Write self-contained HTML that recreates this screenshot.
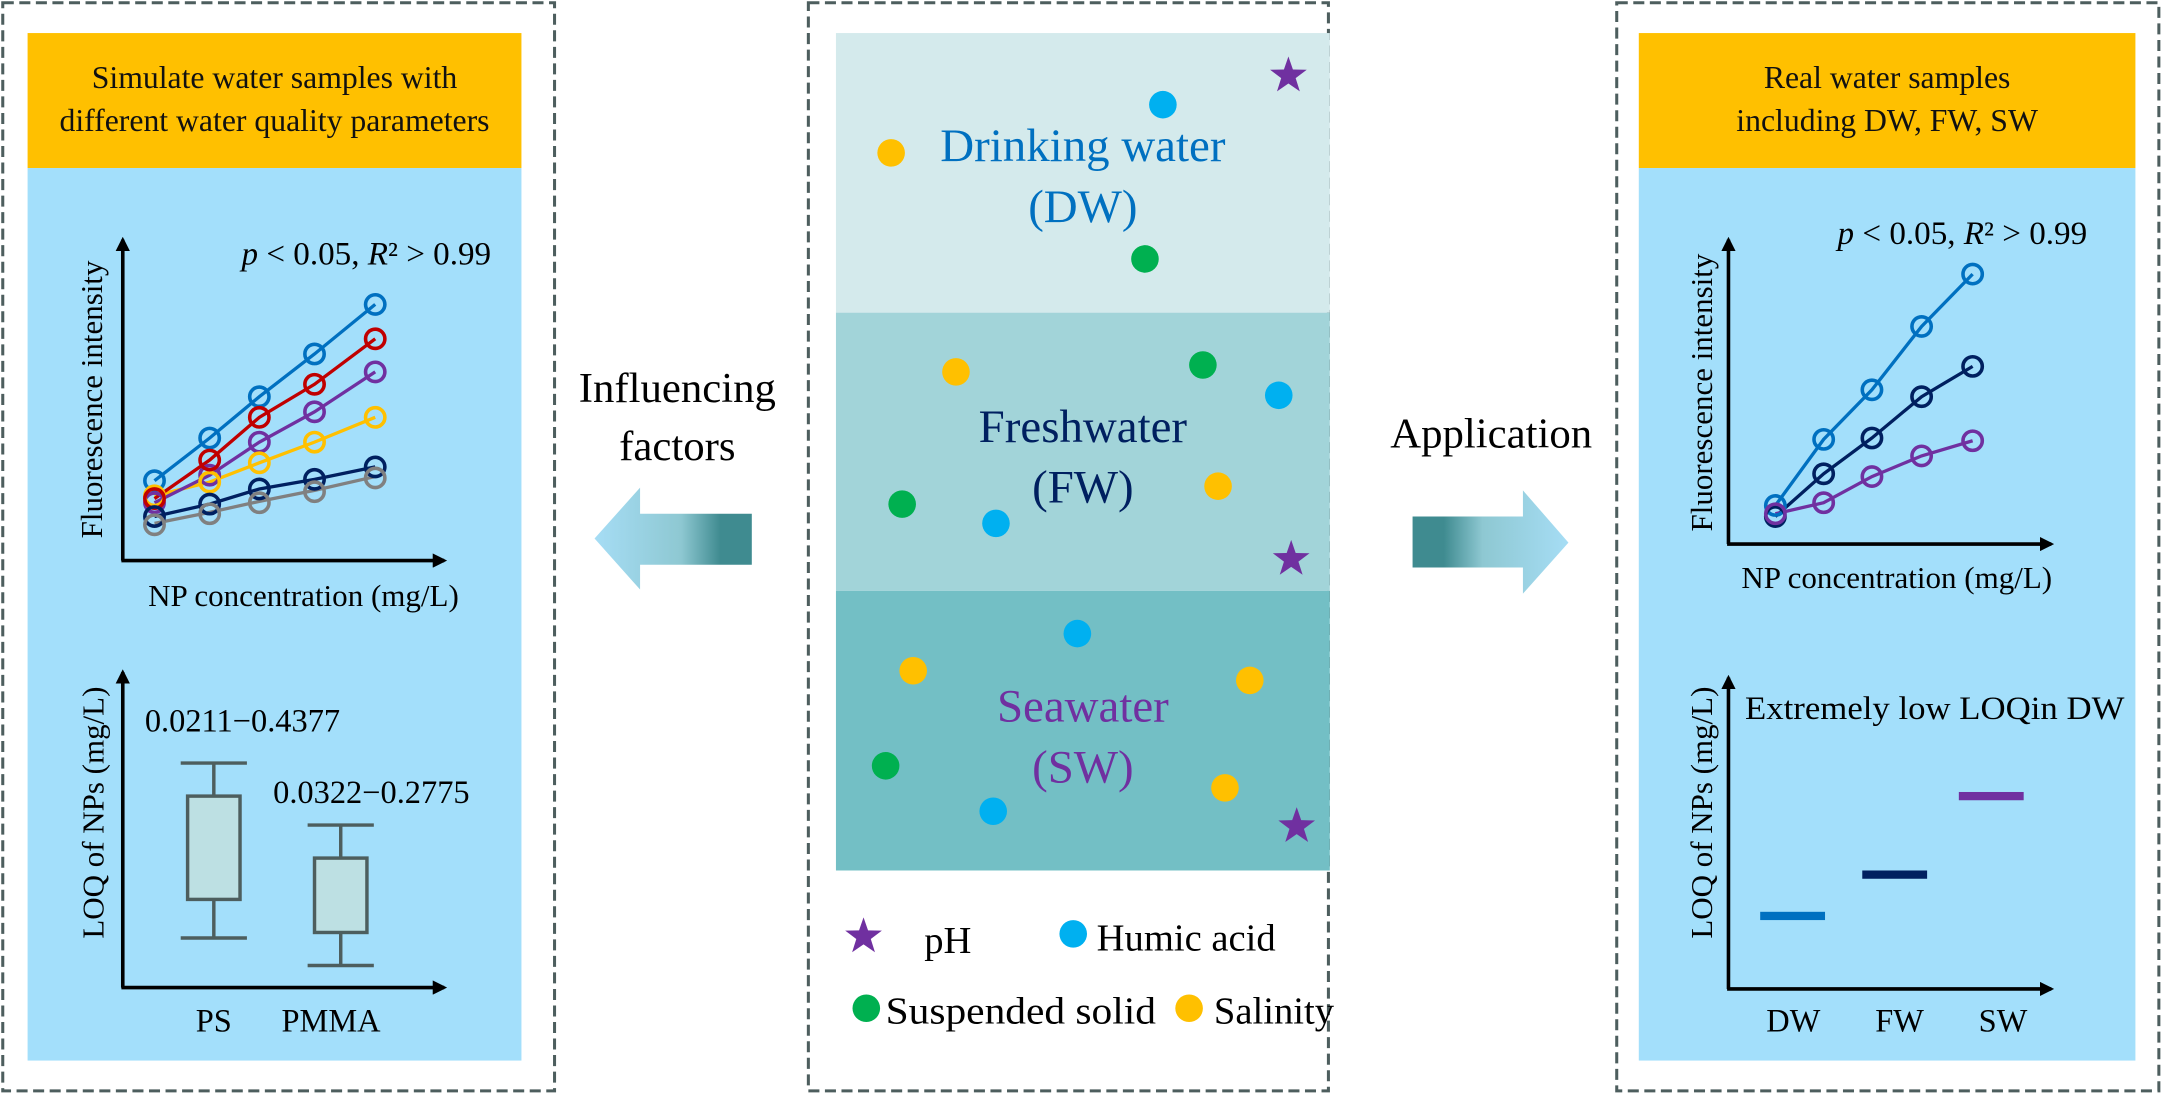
<!DOCTYPE html>
<html><head><meta charset="utf-8"><style>
html,body{margin:0;padding:0;background:#fff;}
svg{display:block;}
text{font-family:"Liberation Serif",serif;}
</style></head><body>
<svg width="2163" height="1095" viewBox="0 0 1568 795" preserveAspectRatio="none" xmlns="http://www.w3.org/2000/svg">
<defs>
<linearGradient id="gl" x1="0" x2="1" y1="0" y2="0">
<stop offset="0" stop-color="#a6ddf5"/><stop offset="0.55" stop-color="#8ec8d2"/><stop offset="0.8" stop-color="#3f8b90"/><stop offset="1" stop-color="#3f8b90"/></linearGradient>
<linearGradient id="gr" x1="0" x2="1" y1="0" y2="0">
<stop offset="0" stop-color="#3f8b90"/><stop offset="0.2" stop-color="#3f8b90"/><stop offset="0.45" stop-color="#8ec8d2"/><stop offset="1" stop-color="#a6ddf5"/></linearGradient>
<marker id="ah" viewBox="0 0 10 10" refX="8" refY="5" markerWidth="4" markerHeight="4" orient="auto"><path d="M0,0 L10,5 L0,10 z" fill="#000"/></marker>
<symbol id="star" viewBox="-12 -12 24 24"><polygon points="0,-12 2.8,-3.9 11.4,-3.7 4.5,1.5 7.1,9.7 0,4.8 -7.1,9.7 -4.5,1.5 -11.4,-3.7 -2.8,-3.9" fill="#7030a0"/></symbol>
</defs>
<g fill="none" stroke="#4d5e5e" stroke-width="2.2" stroke-dasharray="8,4">
<rect x="2" y="2" width="400" height="790"/>
<rect x="586" y="2" width="377" height="790"/>
<rect x="1172" y="2" width="393" height="790"/>
</g>
<!-- left panel -->
<rect x="20" y="24" width="358" height="98" fill="#ffc000"/>
<rect x="20" y="122" width="358" height="648" fill="#a3dffb"/>
<text x="199" y="64" font-size="23" text-anchor="middle" fill="#111">Simulate water samples with</text>
<text x="199" y="95" font-size="23" text-anchor="middle" fill="#111">different water quality parameters</text>
<g stroke="#000" stroke-width="2.6" fill="none">
<line x1="89" y1="407" x2="89" y2="174" marker-end="url(#ah)"/>
<line x1="88" y1="407" x2="322" y2="407" marker-end="url(#ah)"/>
</g>
<text x="356" y="192" font-size="24" text-anchor="end"><tspan font-style="italic">p</tspan> &lt; 0.05, <tspan font-style="italic">R</tspan>² &gt; 0.99</text>
<g fill="none" stroke-width="2.4">
<g stroke="#0070c0"><polyline points="112,349 152,318 188,288 228,257 272,221"/></g>
<g stroke="#ffc000"><polyline points="112,360 152,350 188,336 228,321 272,303"/></g>
<g stroke="#7030a0"><polyline points="112,365 152,345 188,321 228,299 272,270"/></g>
<g stroke="#c00000"><polyline points="112,362 152,334 188,303 228,279 272,246"/></g>
<g stroke="#002060"><polyline points="112,375 152,366 188,355 228,348 272,339"/></g>
<g stroke="#808080"><polyline points="112,380 152,372 188,364 228,356 272,346"/></g>
</g>
<g fill="none" stroke-width="2.6">
<g stroke="#0070c0"><circle cx="112" cy="349" r="7"/><circle cx="152" cy="318" r="7"/><circle cx="188" cy="288" r="7"/><circle cx="228" cy="257" r="7"/><circle cx="272" cy="221" r="7"/></g>
<g stroke="#7030a0"><circle cx="112" cy="365" r="7"/><circle cx="152" cy="345" r="7"/><circle cx="188" cy="321" r="7"/><circle cx="228" cy="299" r="7"/><circle cx="272" cy="270" r="7"/></g>
<g stroke="#ffc000"><circle cx="112" cy="360" r="7"/><circle cx="152" cy="350" r="7"/><circle cx="188" cy="336" r="7"/><circle cx="228" cy="321" r="7"/><circle cx="272" cy="303" r="7"/></g>
<g stroke="#c00000"><circle cx="112" cy="362" r="7"/><circle cx="152" cy="334" r="7"/><circle cx="188" cy="303" r="7"/><circle cx="228" cy="279" r="7"/><circle cx="272" cy="246" r="7"/></g>
<g stroke="#002060"><circle cx="112" cy="375" r="7"/><circle cx="152" cy="366" r="7"/><circle cx="188" cy="355" r="7"/><circle cx="228" cy="348" r="7"/><circle cx="272" cy="339" r="7"/></g>
<g stroke="#808080"><circle cx="112" cy="381" r="7"/><circle cx="152" cy="373" r="7"/><circle cx="188" cy="365" r="7"/><circle cx="228" cy="357" r="7"/><circle cx="272" cy="347" r="7"/></g>
</g>
<text transform="translate(74,290) rotate(-90)" font-size="22.5" text-anchor="middle">Fluorescence intensity</text>
<text x="220" y="440" font-size="22.5" text-anchor="middle">NP concentration (mg/L)</text>
<g stroke="#000" stroke-width="2.6" fill="none">
<line x1="89" y1="717" x2="89" y2="488" marker-end="url(#ah)"/>
<line x1="88" y1="717" x2="322" y2="717" marker-end="url(#ah)"/>
</g>
<text transform="translate(75,590) rotate(-90)" font-size="22.5" text-anchor="middle">LOQ of NPs (mg/L)</text>
<text x="105" y="531" font-size="23.5">0.0211−0.4377</text>
<text x="198" y="583" font-size="23.5">0.0322−0.2775</text>
<g stroke="#4d5e5e" stroke-width="2.5">
<line x1="131" y1="554" x2="179" y2="554"/><line x1="155" y1="554" x2="155" y2="578"/>
<line x1="155" y1="653" x2="155" y2="681"/><line x1="131" y1="681" x2="179" y2="681"/>
<rect x="136" y="578" width="38" height="75" fill="#bde0e3"/>
<line x1="223" y1="599" x2="271" y2="599"/><line x1="247" y1="599" x2="247" y2="623"/>
<line x1="247" y1="677" x2="247" y2="701"/><line x1="223" y1="701" x2="271" y2="701"/>
<rect x="228" y="623" width="38" height="54" fill="#bde0e3"/>
</g>
<text x="155" y="749" font-size="23.5" text-anchor="middle">PS</text>
<text x="240" y="749" font-size="23.5" text-anchor="middle">PMMA</text>
<!-- arrows -->
<text x="491" y="292" font-size="31" text-anchor="middle">Influencing</text>
<text x="491" y="334" font-size="31" text-anchor="middle">factors</text>
<polygon points="431,391 464,354 464,373 545,373 545,410 464,410 464,428" fill="url(#gl)"/>
<text x="1081" y="325" font-size="31" text-anchor="middle">Application</text>
<polygon points="1024,375 1104,375 1104,356 1137,394 1104,431 1104,412 1024,412" fill="url(#gr)"/>
<!-- middle -->
<rect x="606" y="24" width="358" height="203" fill="#d4eaec"/>
<rect x="606" y="227" width="358" height="202" fill="#a2d4d9"/>
<rect x="606" y="429" width="358" height="203" fill="#73bfc5"/>
<text x="785" y="117" font-size="34" text-anchor="middle" fill="#0070c0">Drinking water</text>
<text x="785" y="161" font-size="34" text-anchor="middle" fill="#0070c0">(DW)</text>
<text x="785" y="321" font-size="34" text-anchor="middle" fill="#002060">Freshwater</text>
<text x="785" y="365" font-size="34" text-anchor="middle" fill="#002060">(FW)</text>
<text x="785" y="524" font-size="34" text-anchor="middle" fill="#7030a0">Seawater</text>
<text x="785" y="568" font-size="34" text-anchor="middle" fill="#7030a0">(SW)</text>
<g>
<circle cx="646" cy="111" r="10" fill="#ffc000"/><circle cx="843" cy="76" r="10" fill="#00b0f0"/><circle cx="830" cy="188" r="10" fill="#00b050"/>
<circle cx="693" cy="270" r="10" fill="#ffc000"/><circle cx="872" cy="265" r="10" fill="#00b050"/><circle cx="927" cy="287" r="10" fill="#00b0f0"/>
<circle cx="654" cy="366" r="10" fill="#00b050"/><circle cx="722" cy="380" r="10" fill="#00b0f0"/><circle cx="883" cy="353" r="10" fill="#ffc000"/>
<circle cx="781" cy="460" r="10" fill="#00b0f0"/><circle cx="662" cy="487" r="10" fill="#ffc000"/><circle cx="906" cy="494" r="10" fill="#ffc000"/>
<circle cx="642" cy="556" r="10" fill="#00b050"/><circle cx="720" cy="589" r="10" fill="#00b0f0"/><circle cx="888" cy="572" r="10" fill="#ffc000"/>
</g>
<use href="#star" x="920" y="41" width="28" height="28"/>
<use href="#star" x="922" y="392" width="28" height="28"/>
<use href="#star" x="926" y="586" width="28" height="28"/>
<use href="#star" x="612" y="666" width="28" height="28"/>
<text x="670" y="692" font-size="28">pH</text>
<circle cx="778" cy="678" r="10" fill="#00b0f0"/>
<text x="795" y="690" font-size="28">Humic acid</text>
<circle cx="628" cy="732" r="10" fill="#00b050"/>
<text x="642" y="743" font-size="28" textLength="196" lengthAdjust="spacingAndGlyphs">Suspended solid</text>
<circle cx="862" cy="732" r="10" fill="#ffc000"/>
<text x="880" y="743" font-size="28">Salinity</text>
<!-- right panel -->
<rect x="1188" y="24" width="360" height="98" fill="#ffc000"/>
<rect x="1188" y="122" width="360" height="648" fill="#a3dffb"/>
<text x="1368" y="64" font-size="23" text-anchor="middle" fill="#111">Real water samples</text>
<text x="1368" y="95" font-size="23" text-anchor="middle" fill="#111">including DW, FW, SW</text>
<g stroke="#000" stroke-width="2.6" fill="none">
<line x1="1253" y1="395" x2="1253" y2="174" marker-end="url(#ah)"/>
<line x1="1252" y1="395" x2="1487" y2="395" marker-end="url(#ah)"/>
</g>
<text x="1513" y="177" font-size="24" text-anchor="end"><tspan font-style="italic">p</tspan> &lt; 0.05, <tspan font-style="italic">R</tspan>² &gt; 0.99</text>
<g fill="none" stroke-width="2.4">
<polyline stroke="#0070c0" points="1287,367 1322,319 1357,283 1393,237 1430,199"/>
<polyline stroke="#002060" points="1287,375 1322,344 1357,318 1393,288 1430,266"/>
<polyline stroke="#7030a0" points="1287,373 1322,365 1357,346 1393,331 1430,320"/>
</g>
<g fill="none" stroke-width="2.6">
<g stroke="#0070c0"><circle cx="1287" cy="367" r="7"/><circle cx="1322" cy="319" r="7"/><circle cx="1357" cy="283" r="7"/><circle cx="1393" cy="237" r="7"/><circle cx="1430" cy="199" r="7"/></g>
<g stroke="#002060"><circle cx="1287" cy="375" r="7"/><circle cx="1322" cy="344" r="7"/><circle cx="1357" cy="318" r="7"/><circle cx="1393" cy="288" r="7"/><circle cx="1430" cy="266" r="7"/></g>
<g stroke="#7030a0"><circle cx="1287" cy="373" r="7"/><circle cx="1322" cy="365" r="7"/><circle cx="1357" cy="346" r="7"/><circle cx="1393" cy="331" r="7"/><circle cx="1430" cy="320" r="7"/></g>
</g>
<text transform="translate(1241,285) rotate(-90)" font-size="22.5" text-anchor="middle">Fluorescence intensity</text>
<text x="1375" y="427" font-size="22.5" text-anchor="middle">NP concentration (mg/L)</text>
<g stroke="#000" stroke-width="2.6" fill="none">
<line x1="1253" y1="718" x2="1253" y2="492" marker-end="url(#ah)"/>
<line x1="1252" y1="718" x2="1487" y2="718" marker-end="url(#ah)"/>
</g>
<text transform="translate(1241,590) rotate(-90)" font-size="22.5" text-anchor="middle">LOQ of NPs (mg/L)</text>
<text x="1265" y="522" font-size="23.5" textLength="275" lengthAdjust="spacingAndGlyphs">Extremely low LOQin DW</text>
<rect x="1276" y="662" width="47" height="6" fill="#0070c0"/>
<rect x="1350" y="632" width="47" height="6" fill="#002060"/>
<rect x="1420" y="575" width="47" height="6" fill="#7030a0"/>
<text x="1300" y="749" font-size="23.5" text-anchor="middle">DW</text>
<text x="1377" y="749" font-size="23.5" text-anchor="middle">FW</text>
<text x="1452" y="749" font-size="23.5" text-anchor="middle">SW</text>
</svg>
</body></html>
